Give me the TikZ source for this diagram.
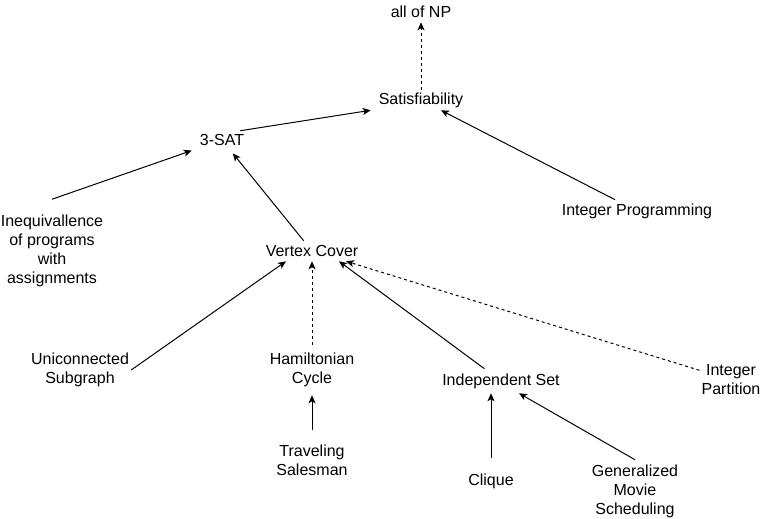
\documentclass[tikz,border=0pt]{standalone}
\usepackage{fontspec}
\setmainfont{Liberation Sans}
\usetikzlibrary{arrows.meta}

\begin{document}
\begin{tikzpicture}[
    x=0.75pt, y=-0.75pt,
    prob/.style={inner sep=1.5pt, align=center, font=\fontsize{12pt}{14.25pt}\selectfont},
    reduce/.style={-{Stealth[length=6pt, width=5.25pt, inset=1.5pt]}, line width=0.75pt},
    weak/.style={reduce, dash pattern=on 2.25pt off 2.25pt}
]
    \useasboundingbox (0,0) rectangle (782,518);

    % Problems
    \node[prob, minimum height=15pt] (np) at (421,12) {all of NP};
    \node[prob, minimum width=75pt, minimum height=15pt] (sat) at (421,100) {Satisfiability};
    \node[prob, minimum width=45pt, minimum height=19.5pt] (sat3) at (222,140) {3-SAT};
    \node[prob, minimum height=77.25pt] (ineq) at (52,251) {Inequivallence\\of programs\\with\\assignments};
    \node[prob, minimum height=16.5pt] (ip) at (637,211) {Integer Programming};
    \node[prob, minimum height=15pt] (vc) at (312,251) {Vertex Cover};
    \node[prob] (uc) at (80,370) {Uniconnected\\Subgraph};
    \node[prob, minimum height=37.5pt] (ham) at (312,370) {Hamiltonian\\Cycle};
    \node[prob, minimum height=18pt] (is) at (501,381) {Independent Set};
    \node[prob] (part) at (731,380) {Integer\\Partition};
    \node[prob, minimum height=45pt] (tsp) at (312,460) {Traveling\\Salesman};
    \node[prob, minimum height=34.5pt] (clique) at (491,481) {Clique};
    \node[prob, minimum height=46.5pt] (gms) at (635,491) {Generalized\\Movie\\Scheduling};

    % Reductions
    \foreach \a/\b in {ineq.north/sat3, vc/sat3, ip/sat, tsp/ham} {
        \draw[reduce] (\a) -- (\b);
    }
    \draw[reduce] ([shift={(-12,4)}]sat3.north east) -- (sat.south west);
    \draw[reduce] (uc.east) -- ([shift={(-26,0)}]vc.south);
    \draw[reduce] (is) -- ([shift={(27,0)}]vc.south);
    \draw[reduce] (clique.north) -- (clique.north |- is.south);
    \draw[reduce] (gms.north) -- ([shift={(18,0)}]is.south);

    % Dashed reductions
    \draw[weak] (sat) -- (np);
    \draw[weak] (ham) -- (vc);
    \draw[weak] (part) -- ([shift={(34,0)}]vc.south);
\end{tikzpicture}
\end{document}
